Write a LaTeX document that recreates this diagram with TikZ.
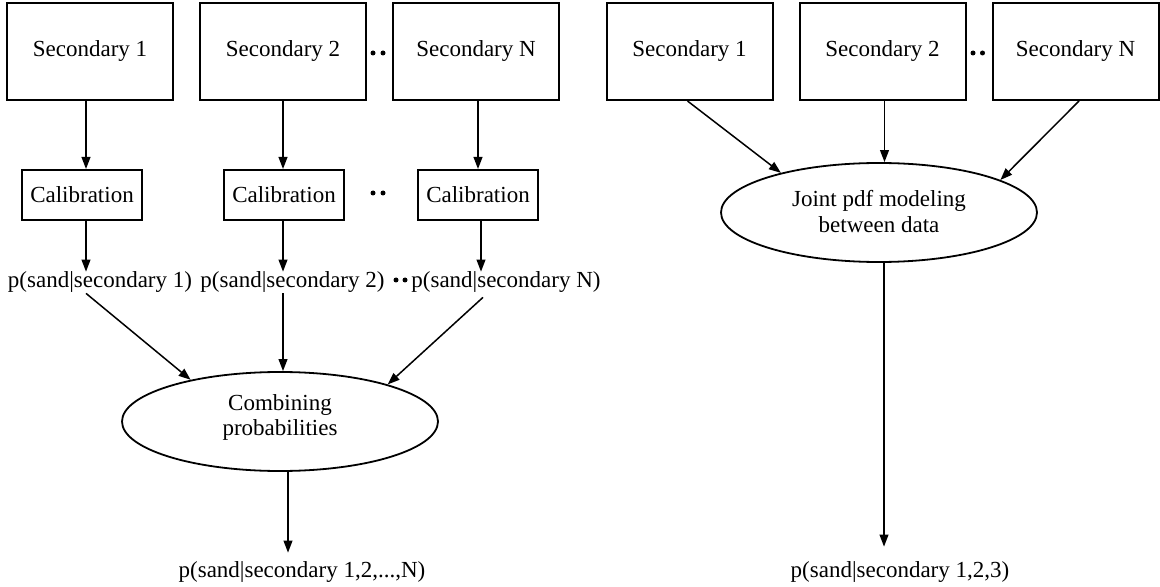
\documentclass[tikz,border=0pt]{standalone}
\usepackage{fontspec}
\setmainfont{Liberation Serif}
\usetikzlibrary{arrows.meta,shapes.geometric,calc}
\tikzset{
  secbox/.style={draw, line width=1pt, minimum width=83pt, minimum height=48.5pt, inner sep=0pt},
  calbox/.style={draw, line width=1pt, minimum width=60pt, minimum height=25pt, inner sep=0pt},
  ell/.style={draw, ellipse, line width=0.9pt, minimum width=158pt, minimum height=49.5pt, inner sep=0pt},
  ptext/.style={inner sep=0pt, anchor=base},
  etext/.style={inner sep=0pt, align=center},
  arr/.style={-{Triangle[length=6pt,width=4.4pt]}, line width=0.75pt},
  dot/.style={circle, fill, inner sep=0pt, minimum size=2.5pt},
}
\begin{document}
\begin{tikzpicture}[x=0.5pt,y=-0.5pt, font=\fontsize{11.5}{12.75}\selectfont]
\useasboundingbox (0,0) rectangle (1160,587);
% ---------- left panel ----------
\node[secbox] (s1l) at (90,51.5) {Secondary 1};
\node[secbox] (s2l) at (283,51.5) {Secondary 2};
\node[secbox] (snl) at (476,51.5) {Secondary N};
\node[dot] (dla) at (373,53) {};
\node[dot] (dlb) at (383,53) {};
\node[calbox] (c1) at (82,195) {Calibration};
\node[calbox] (c2) at (284,195) {Calibration};
\node[calbox] (cn) at (478,195) {Calibration};
\node[dot] (dma) at (373,193) {};
\node[dot] (dmb) at (383,193) {};
\node[ptext] (p1) at (100,288) {p(sand|secondary 1)};
\node[ptext] (p2) at (292.5,288) {p(sand|secondary 2)};
\node[ptext] (pn) at (506,288) {p(sand|secondary N)};
\node[dot] (dpa) at (396,280) {};
\node[dot] (dpb) at (405,280) {};
\node[ell] (comb) at (280,421.5) {};
\node[etext] (combt) at (280,417.4) {Combining\\probabilities};
\node[ptext] (fl) at (302,577) {p(sand|secondary 1,2,...,N)};
\draw[arr] ($(s1l.south)+(-4,0)$) -- ($(c1.north)+(4,0)$);
\draw[arr] (s2l.south) -- (s2l.south |- c2.north);
\draw[arr] (cn.north |- snl.south) -- (cn.north);
\draw[arr] ($(c1.south)+(4,0)$) -- ($(p1.north)+(-14,0)$);
\draw[arr] ($(c2.south)+(-1,0)$) -- ($(p2.north)+(-9.5,0)$);
\draw[arr] ($(cn.south)+(3,0)$) -- ($(pn.north)+(-25,0)$);
\draw[arr] ($(p1.south)+(-14,0)$) -- (comb.155);
\draw[arr] ($(p2.south)+(-9.5,0)$) -- ($(comb.north)+(3,0)$);
\draw[arr] ($(pn.south)+(-23,4)$) -- (comb.19);
\draw[arr] ($(comb.south)+(8,0)$) -- ($(fl.north)+(-14,-8)$);
% ---------- right panel ----------
\node[secbox] (s1r) at (689.5,51.5) {Secondary 1};
\node[secbox] (s2r) at (882.5,51.5) {Secondary 2};
\node[secbox] (snr) at (1075.5,51.5) {Secondary N};
\node[dot] (dra) at (973,53) {};
\node[dot] (drb) at (982.5,53) {};
\node[ell] (jr) at (879,212.5) {};
\node[etext] (jrt) at (879,211.6) {Joint pdf modeling\\between data};
\node[ptext] (fr) at (900,577) {p(sand|secondary 1,2,3)};
\draw[arr] ($(s1r.south)+(-2,0)$) -- (jr.158.6);
\draw[arr] ($(s2r.south)+(2,0)$) -- ($(jr.north)+(5.5,0)$);
\draw[arr] ($(snr.south)+(3.5,0)$) -- (jr.15.4);
\draw[arr] ($(jr.south)+(5,0)$) -- ($(fr.north)+(-16,-14)$);
\end{tikzpicture}
\end{document}
